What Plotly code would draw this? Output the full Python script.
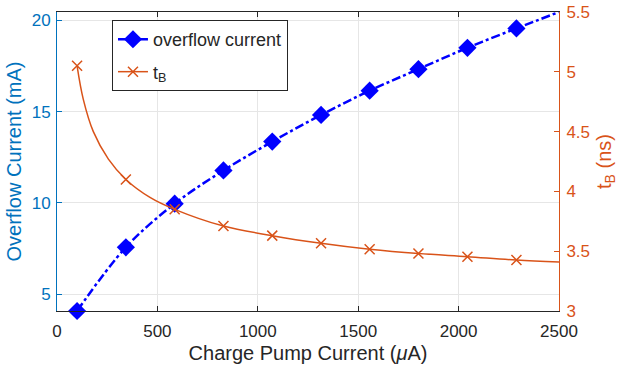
import plotly.graph_objects as go

# --- data ---
# marker points (charge pump current, uA)
marker_x = [100, 343, 586, 829, 1072, 1315, 1557, 1800, 2044, 2288]
overflow_mA = [4.08, 7.57, 9.96, 11.78, 13.36, 14.82, 16.15, 17.33, 18.50, 19.56]
tB_ns = [5.05, 4.10, 3.85, 3.71, 3.63, 3.566, 3.516, 3.48, 3.454, 3.426]

# curve points (markers + extra readings along the drawn lines)
blue_curve_x = [100, 343, 586, 829, 1072, 1315, 1557, 1800, 2044, 2288, 2500]
blue_curve_y = [4.08, 7.57, 9.96, 11.78, 13.36, 14.82, 16.15, 17.33, 18.50, 19.56, 20.46]
orange_curve_x = [100, 131, 181, 256, 343, 463, 586, 829, 1072, 1315, 1557, 1800, 2044, 2288, 2500]
orange_curve_y = [5.05, 4.77, 4.50, 4.27, 4.10, 3.95, 3.85, 3.71, 3.63, 3.566, 3.516, 3.48, 3.454, 3.426, 3.41]

x_ticks = [0, 500, 1000, 1500, 2000, 2500]
left_ticks = [5, 10, 15, 20]
right_ticks = [3, 3.5, 4, 4.5, 5, 5.5]

BLUE = "#0000FF"
AX_BLUE = "#0072BD"
ORANGE = "#D95319"
DARK = "#262626"
FONT = "Liberation Sans, Arial, sans-serif"

fig = go.Figure()

# lines
fig.add_trace(go.Scatter(x=blue_curve_x, y=blue_curve_y, mode="lines",
                         line=dict(color=BLUE, width=2.5, dash="dashdot", shape="spline"),
                         showlegend=False, hoverinfo="skip", yaxis="y"))
fig.add_trace(go.Scatter(x=orange_curve_x, y=orange_curve_y, mode="lines",
                         line=dict(color=ORANGE, width=1.5, shape="spline"),
                         showlegend=False, hoverinfo="skip", yaxis="y2"))
# markers
fig.add_trace(go.Scatter(x=marker_x, y=overflow_mA, mode="markers",
                         marker=dict(symbol="diamond", size=14, color=BLUE),
                         showlegend=False, yaxis="y", cliponaxis=False))
fig.add_trace(go.Scatter(x=marker_x, y=tB_ns, mode="markers",
                         marker=dict(symbol="x-thin", size=10, color=ORANGE,
                                     line=dict(color=ORANGE, width=1.5)),
                         showlegend=False, yaxis="y2"))
# legend entries
fig.add_trace(go.Scatter(x=[None], y=[None], mode="lines+markers", name="overflow current",
                         legendgroup="a",
                         line=dict(color=BLUE, width=2.5),
                         marker=dict(symbol="diamond", size=14, color=BLUE), yaxis="y"))
fig.add_trace(go.Scatter(x=[None], y=[None], mode="lines+markers", name="t<sub>B</sub>",
                         legendgroup="b",
                         line=dict(color=ORANGE, width=1.5),
                         marker=dict(symbol="x-thin", size=10, color=ORANGE,
                                     line=dict(color=ORANGE, width=1.5)), yaxis="y2"))

fig.update_layout(
    width=621, height=371,
    margin=dict(l=57, r=62, t=12, b=60, autoexpand=False),
    paper_bgcolor="white", plot_bgcolor="white",
    font=dict(family=FONT, size=17, color=DARK),
    xaxis=dict(range=[0, 2500], tickvals=x_ticks, showgrid=True, gridcolor="#e6e6e6",
               zeroline=False, showline=True, linecolor=DARK, linewidth=1, mirror="ticks",
               ticks="inside", ticklen=5, tickcolor=DARK, automargin=False,
               tickfont=dict(size=17, color=DARK), ticklabelstandoff=5,
               title=dict(text="Charge Pump Current (<i>μ</i>A)", font=dict(size=20, color=DARK),
                          standoff=5)),
    yaxis=dict(range=[4.08, 20.46], tickvals=left_ticks, showgrid=True, gridcolor="#e6e6e6",
               zeroline=False, showline=True, linecolor=AX_BLUE, linewidth=1,
               ticks="inside", ticklen=5, tickcolor=AX_BLUE, automargin=False,
               tickfont=dict(size=17, color=AX_BLUE), ticklabelstandoff=2,
               title=dict(text="Overflow Current (mA)", font=dict(size=20, color=AX_BLUE),
                          standoff=4)),
    yaxis2=dict(range=[3, 5.5], tickvals=right_ticks, overlaying="y", side="right", anchor="x",
                showgrid=False, zeroline=False, showline=True, linecolor=ORANGE, linewidth=1,
                ticks="inside", ticklen=5, tickcolor=ORANGE, automargin=False,
                tickfont=dict(size=17, color=ORANGE), ticklabelstandoff=3,
                title=dict(text="t<sub>B</sub> (ns)", font=dict(size=20, color=ORANGE),
                           standoff=7)),
    legend=dict(x=0.1095, y=0.973, xanchor="left", yanchor="top",
                bgcolor="white", bordercolor=DARK, borderwidth=1,
                font=dict(size=18, color=DARK), itemwidth=30,
                traceorder="grouped", tracegroupgap=6),
)

fig.write_html("out.html")
